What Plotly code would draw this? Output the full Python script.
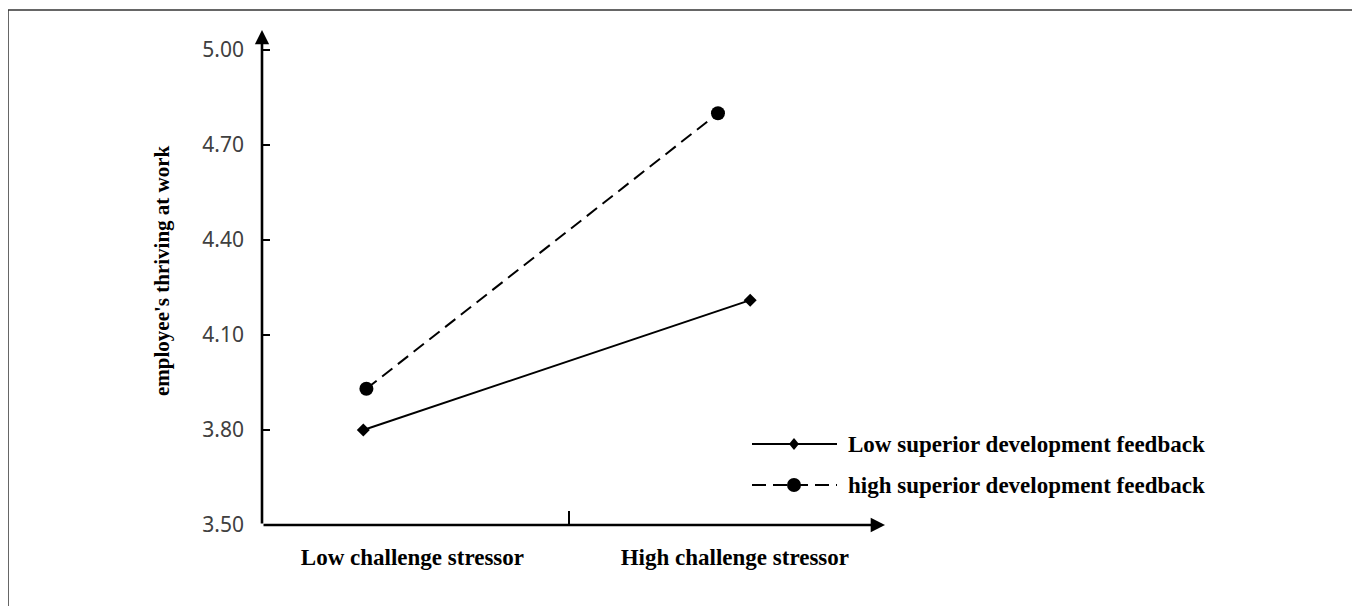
import plotly.graph_objects as go

# ---------------- data ----------------
categories = ["Low challenge stressor", "High challenge stressor"]
category_pos = [0.49, 1.54]
divider_pos = [1.0]

series_names = ["Low superior development feedback", "high superior development feedback"]
low_x = [0.33, 1.59]
low_y = [3.80, 4.21]
high_x = [0.34, 1.485]
high_y = [3.93, 4.80]

y_ticks = [3.50, 3.80, 4.10, 4.40, 4.70, 5.00]
y_ticktext = ["3.50", "3.80", "4.10", "4.40", "4.70", "5.00"]
y_title = "employee's thriving at work"

# ---------------- layout constants ----------------
OFF = 8  # page body margin
W, H = 1360, 606
L, R, T, B = 262 - OFF, 1360 - 885 + OFF, 30 - OFF, 606 - 525 + OFF
PW, PH = W - L - R, H - T - B
x_range = [0, 2.029]
y_range = [3.50, 5.063]

def px_x(p):  # page pixel -> paper
    return (p - OFF - L) / PW

def px_y(p):
    return (H - B - (p - OFF)) / PH

serif = "Liberation Serif"

fig = go.Figure()
fig.add_trace(go.Scatter(
    x=low_x, y=low_y, mode="lines+markers", name=series_names[0],
    line=dict(color="black", width=2),
    marker=dict(symbol="diamond", size=10, color="black"),
    showlegend=False, cliponaxis=False))
fig.add_trace(go.Scatter(
    x=high_x, y=high_y, mode="lines+markers", name=series_names[1],
    line=dict(color="black", width=2, dash="13px,7px"),
    marker=dict(symbol="circle", size=14, color="black"),
    showlegend=False, cliponaxis=False))

shapes = []
annotations = []

# axis arrows
annotations.append(dict(x=x_range[0], y=y_range[1], ax=x_range[0], ay=y_range[0],
                        xref="x", yref="y", axref="x", ayref="y", text="",
                        showarrow=True, arrowhead=2, arrowsize=1.1, arrowwidth=2.6,
                        arrowcolor="black"))
annotations.append(dict(x=x_range[1], y=y_range[0], ax=x_range[0], ay=y_range[0],
                        xref="x", yref="y", axref="x", ayref="y", text="",
                        showarrow=True, arrowhead=2, arrowsize=1.1, arrowwidth=2.6,
                        arrowcolor="black"))

# y title
annotations.append(dict(x=0, y=px_y(271), xref="paper", yref="paper", xshift=-100,
                        text=y_title, textangle=-90, showarrow=False,
                        xanchor="center", yanchor="middle",
                        font=dict(family=serif, size=21, color="black", weight="bold")))

# manual legend
leg_rows = [444, 485]
for i, name in enumerate(series_names):
    yy = px_y(leg_rows[i])
    shapes.append(dict(type="line", xref="paper", yref="paper",
                       x0=px_x(752), x1=px_x(837), y0=yy, y1=yy,
                       line=dict(color="black", width=2,
                                 dash="solid" if i == 0 else "14px,7px")))
    annotations.append(dict(x=px_x(846), y=yy, xref="paper", yref="paper",
                            text=name, showarrow=False, xanchor="left", yanchor="middle",
                            font=dict(family=serif, size=23, color="black", weight="bold")))
# legend markers
shapes.append(dict(type="path", xref="paper", yref="paper", xsizemode="pixel", ysizemode="pixel",
                   xanchor=px_x(794), yanchor=px_y(leg_rows[0]),
                   path="M -5 0 L 0 6 L 5 0 L 0 -6 Z",
                   fillcolor="black", line=dict(color="black", width=0)))
shapes.append(dict(type="circle", xref="paper", yref="paper", xsizemode="pixel", ysizemode="pixel",
                   xanchor=px_x(794), yanchor=px_y(leg_rows[1]),
                   x0=-7, x1=7, y0=-7, y1=7,
                   fillcolor="black", line=dict(color="black", width=0)))

# outer frame
shapes.append(dict(type="line", xref="paper", yref="paper", x0=px_x(8), x1=px_x(1355),
                   y0=px_y(10), y1=px_y(10), line=dict(color="#333333", width=1.5)))
shapes.append(dict(type="line", xref="paper", yref="paper", x0=px_x(8), x1=px_x(8),
                   y0=px_y(10), y1=px_y(620), line=dict(color="#333333", width=1.5)))
shapes.append(dict(type="line", xref="paper", yref="paper", x0=px_x(1355), x1=px_x(1355),
                   y0=px_y(10), y1=px_y(620), line=dict(color="#808080", width=2)))

fig.update_layout(
    width=W, height=H,
    margin=dict(l=L, r=R, t=T, b=B, pad=0),
    paper_bgcolor="white", plot_bgcolor="white",
    showlegend=False,
    shapes=shapes, annotations=annotations,
    xaxis=dict(range=x_range, showgrid=False, zeroline=False, showline=False,
               tickmode="array", tickvals=category_pos, ticktext=categories, ticks="",
               ticklabelstandoff=16,
               tickfont=dict(family=serif, size=23, color="black", weight="bold"),
               minor=dict(tickmode="array", tickvals=divider_pos, ticks="inside",
                          ticklen=14, tickwidth=1.5, tickcolor="black", showgrid=False)),
    yaxis=dict(range=y_range, showgrid=False, zeroline=False, showline=False,
               tickmode="array", tickvals=y_ticks, ticktext=y_ticktext,
               ticks="inside", ticklen=8, tickwidth=2, tickcolor="black",
               ticklabelstandoff=17,
               tickfont=dict(family="Noto Sans", size=21, color="#404040")),
)

fig.write_html("out.html")
